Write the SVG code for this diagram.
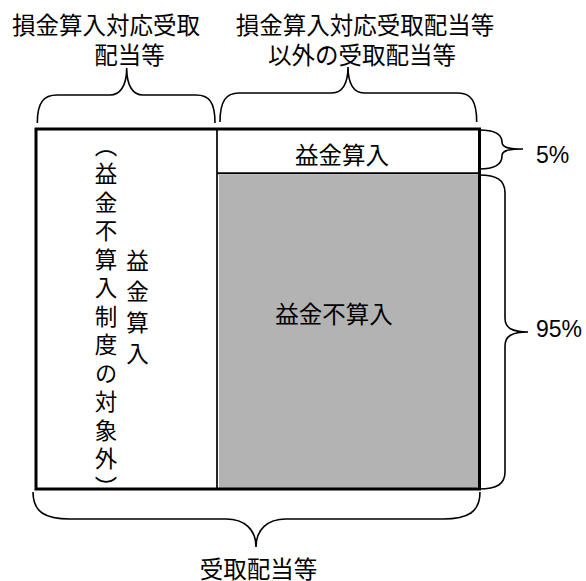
<svg xmlns="http://www.w3.org/2000/svg" width="586" height="581" viewBox="0 0 586 581">
<style>
.jp{font-family:"Noto Sans CJK JP","Noto Sans CJK SC",sans-serif;font-size:23.5px;fill:#000;text-anchor:middle}
.vt{font-family:"Noto Sans CJK JP","Noto Sans CJK SC",sans-serif;font-size:22.5px;fill:#000;writing-mode:vertical-rl;text-anchor:start}
.num{font-family:"Liberation Sans",Arial,sans-serif;font-size:23px;fill:#000}
.br{fill:none;stroke:#000;stroke-width:1.6}
</style>
<rect width="586" height="581" fill="#fff"/>
<g id="labels-top">
<text class="jp" x="106" y="34">損金算入対応受取</text>
<text class="jp" x="129.5" y="64">配当等</text>
<text class="jp" x="365" y="34">損金算入対応受取配当等</text>
<text class="jp" x="362" y="64">以外の受取配当等</text>
</g>
<g id="box">
<rect x="219" y="175" width="259" height="313" fill="#b3b3b3"/>
<line x1="217" y1="129" x2="217" y2="489" stroke="#000" stroke-width="1.7"/>
<line x1="217" y1="173.3" x2="479.5" y2="173.3" stroke="#000" stroke-width="2"/>
<rect x="36" y="129" width="443.5" height="360" fill="none" stroke="#000" stroke-width="3"/>
</g>
<g id="left-col">
<text class="vt" x="106" y="134" letter-spacing="6">（益金不算入制度の対象外）</text>
<text class="vt" x="137.5" y="249" letter-spacing="8.7">益金算入</text>
</g>
<g id="cell-top"><text class="jp" x="342" y="164">益金算入</text></g>
<g id="cell-gray"><text class="jp" x="334" y="322.5">益金不算入</text></g>
<g id="connectors">
<path class="br" d="M37.3 123 C37.3 102 44 95 57 95 L110 95 C120 95 126.7 86 126.7 68 C126.7 86 133 95 143 95 L196 95 C209 95 215 102 215 123"/>
<path class="br" d="M220 122 C220 101 226 93 239 93 L332 93 C342 93 348 84 348 67 C348 84 354 93 364 93 L458 93 C471 93 476.7 101 476.7 122"/>
<path class="br" d="M479 130 C495 130 502 135 502 142 C502 147 507 149 523 149 C507 149 502 151 502 156 C502 164 495 169 479 169"/>
<path class="br" d="M479 175 C497 175 505 180 505 193 L505 318 C505 328 512 332 528 332 C512 332 505 336 505 346 L505 472 C505 484 497 489 479 489"/>
<path class="br" d="M33 492 C33 512 45 519 70 519 L226 519 C245 519 256 530 256 547 C256 530 267 519 286 519 L443 519 C468 519 480 512 480 492"/>
</g>
<g id="labels-right">
<text class="num" x="536" y="162.5">5%</text>
<text class="num" x="536" y="336.5">95%</text>
</g>
<g id="label-bottom"><text class="jp" x="258.5" y="578">受取配当等</text></g>
</svg>
